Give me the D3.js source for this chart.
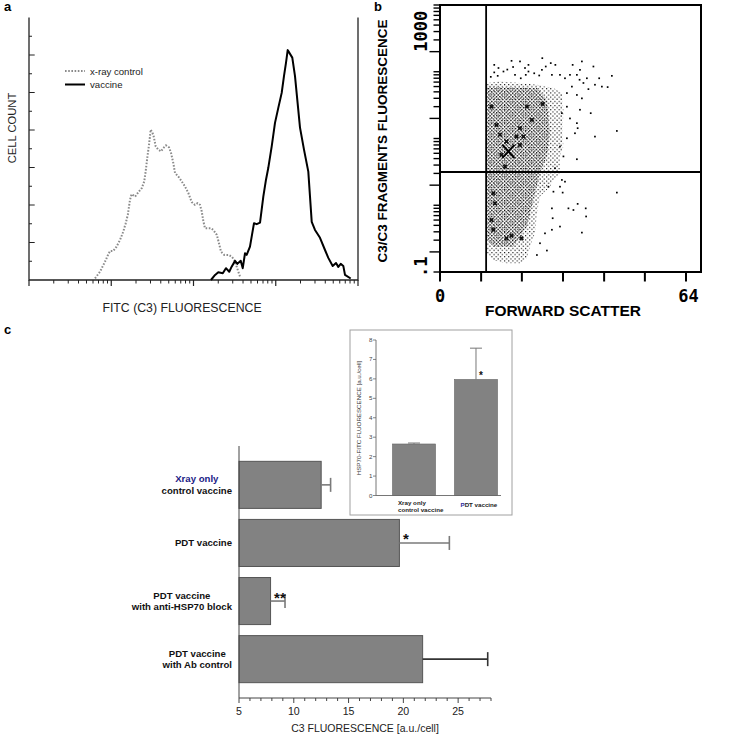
<!DOCTYPE html>
<html><head><meta charset="utf-8">
<script src="https://cdn.jsdelivr.net/npm/d3@7"></script>
<style>body{margin:0;background:#fff}svg{display:block}</style>
</head><body>
<svg id="fig" width="747" height="736"></svg>
<script>
// ================= DATA =================
// Panel a: histogram traces (fluorescence channel value, cell count)
const vaccineFluor = [163,183,200,227,248,272,291,320,341,375,397,423,443,486,544,587,644,706,761,811,893,979,1074,1181,1259,1333,1397,1589,1714,1972,2205,2488,2737,3000,3451,3970,4355,4925,5403,5763,6166,6628,6950,8150];
const vaccineCount = [0,2.7,4.1,3.6,6.3,4.4,7.1,10.2,8.6,10.3,6.3,14.3,13.4,17.8,30.3,29.8,30.6,44.5,53.5,59.7,71.3,83.8,91.8,99.8,108.7,115.9,122.6,118.6,108.7,81.3,69.5,57.8,31.0,26.7,22.5,16.0,11.8,7.5,9.1,7.0,8.6,7.5,2.7,0.8];
const controlFluor = [6.35,7.3,8.4,9.2,9.7,10.6,11.6,12.8,14.0,15.0,15.9,16.9,17.7,19.5,21.3,23.5,25.2,26.2,27.4,28.8,30.2,32.5,34.7,37.3,40.3,43.0,46.3,50.4,53.3,56.8,59.6,65.3,71.9,78.8,86.5,95.1,104,112,120,126,132,138,163,174,192,204,216,237,265,291,313,335,351,368];
const controlCount = [0.9,4.4,9.8,13.7,15.5,15.5,17.8,21.4,25.8,30.3,34.8,42.8,45.8,44.5,46.7,49.0,52.6,57.9,65.1,72.2,80.2,77.5,71.3,69.5,68.6,70.4,71.8,70.7,67.8,62.4,57.1,55.2,52.6,49.9,46.4,41.6,40.1,41.0,40.1,36.5,31.2,27.6,27.6,26.7,24.1,19.6,15.1,13.4,13.4,12.5,10.7,7.1,4.4,1.8];
const histSeries = ["x-ray control", "vaccine"];
const histDecades = [1, 10, 100, 1000, 10000];
const histCountTicks = [10,20,30,40,50,60,70,80,90,100,110,120,130];

// Panel b: scatter (forward scatter, C3 fluorescence)
const fsTicks = [0, 10.7, 21.3, 32, 42.7, 53.3, 64];
const fsTickLabels = ["0", "64"];
const flTickLabels = [".1", "1000"];
const gateFS = 12, gateFL = 3.15;
const denseOuterFS = [12.3,15.6,20.8,25.2,29.5,31.7,32.1,31.9,32.1,31.2,31.2,29.5,28.6,26.0,25.2,24.7,23.4,22.6,20.8,17.3,13.9,12.3];
const denseOuterFL = [67.6,71.6,67.6,63.8,56.9,47.9,26.9,12.0,7.6,5.4,3.0,2.4,1.9,1.35,0.76,0.38,0.24,0.16,0.135,0.135,0.15,0.19];
const denseInnerFS = [12.3,25.2,27.8,28.6,27.8,26.0,24.3,22.6,19.1,13.9,12.3];
const denseInnerFL = [60,57,38,12.0,5.4,3.0,1.2,0.48,0.24,0.24,0.30];
const sparseFS = [14.1,15.2,14.1,15.0,16.5,18.6,19.5,20.8,22.1,23.0,23.0,22.3,26.6,26.5,27.5,28.8,29.1,30.0,31.2,32.5,33.8,34.5,35.6,36.4,36.9,36.3,37.3,38.6,39.9,40.3,41.4,42.1,43.6,44.7,38.2,34.3,33.0,35.6,36.9,36.4,39.2,33.0,31.7,33.8,35.6,35.8,40.3,46.0,35.1,33.0,31.2,32.1,35.6,29.9,31.7,32.5,28.2,29.5,31.2,31.9,46.0,33.4,34.7,35.8,37.9,38.0,36.9,29.1,29.3,31.2,27.3,29.1,27.8,26.0,25.2,17.5,21.0,24.5,13.2,19.0,25.8];
const sparseFL = [127,114,98,87,101,146,90,143,114,127,101,90,160,107,120,135,90,127,90,80,90,127,90,107,143,76,68,55,120,64,80,60,59,87,80,60,48,45,40,27,24,30,24,20,17,14.3,10.7,13.0,12.0,10.1,7.6,5.4,4.9,3.6,2.4,2.26,1.9,1.6,1.9,1.55,1.55,0.90,0.85,1.05,0.90,0.68,0.39,0.90,0.64,0.48,0.38,0.43,0.21,0.27,0.18,108,80,95,84,118,88];
const blobFS = [22.6,26.7,23.9,20.8,19.9,21.7,20.8,17.3,15.6,16.0,14.7,16.9,13.9,14.3,13.4,13.9,17.3,18.6,21.2,13.4];
const blobFL = [30,33,19,14.3,10.7,10.7,8.0,9.0,11.4,5.7,16.0,3.8,1.51,1.07,0.60,0.43,0.32,0.35,0.32,30];
const centroid = {fs: 17.8, fl: 6.4};

// Panel c: main bars
const c3Cats = [["Xray only","control vaccine"],["PDT vaccine"],["PDT vaccine","with anti-HSP70 block"],["PDT vaccine","with Ab control"]];
const c3Values = [12.5, 19.64, 7.88, 21.76];
const c3Errors = [0.86, 4.56, 1.32, 5.94];
const c3Sig = ["", "*", "**", ""];
const c3Ticks = [5, 10, 15, 20, 25];
const c3Label = "C3 FLUORESCENCE [a.u./cell]";

// Panel c inset
const hspCats = [["Xray only","control vaccine"],["PDT vaccine"]];
const hspValues = [2.65, 5.97];
const hspErrors = [0.05, 1.61];
const hspSig = ["", "*"];
const hspTicks = [0,1,2,3,4,5,6,7,8];
const hspLabel = "HSP70-FITC FLUORESCENCE [a.u./cell]";

// ================= DRAWING =================
const svg = d3.select("#fig");
const SANS = "'Liberation Sans', Arial, Helvetica, sans-serif";
const MONO = "'DejaVu Sans Mono', monospace";
const zip = (a, b) => a.map((v, i) => [v, b[i]]);

// panel letters
svg.append("text").attr("x", 4).attr("y", 11).text("a");
svg.append("text").attr("x", 374).attr("y", 11).text("b");
svg.append("text").attr("x", 4).attr("y", 334).text("c");
svg.selectAll("text").attr("font-family", SANS).attr("font-weight", "bold").attr("font-size", 13);

// ---------- Panel a ----------
{
  const x = d3.scaleLog().domain([1, 10000]).range([29, 358]);
  const y = d3.scaleLinear().domain([0, 140]).range([280, 17.5]);
  const g = svg.append("g");
  const [x0, x1] = x.range(), [y0, y1] = y.range();
  g.append("path").attr("d", `M${x0},${y1}V${y0}H${x1}V${y1}`)
    .attr("fill", "none").attr("stroke", "#222").attr("stroke-width", 1.3);
  const minor = [];
  histDecades.slice(0, -1).forEach(d => { for (let k = 2; k < 10; k++) minor.push(d * k); });
  g.selectAll(".mx").data(minor).join("line")
    .attr("x1", d => x(d)).attr("x2", d => x(d)).attr("y1", y0).attr("y2", y0 + 3.5)
    .attr("stroke", "#222").attr("stroke-width", 1);
  g.selectAll(".Mx").data(histDecades).join("line")
    .attr("x1", d => x(d)).attr("x2", d => x(d)).attr("y1", y0).attr("y2", y0 + 6)
    .attr("stroke", "#222").attr("stroke-width", 1.2);
  g.selectAll(".ty").data(histCountTicks).join("line")
    .attr("x1", x0).attr("x2", d => x0 + (d % 20 === 0 ? 5.7 : 3))
    .attr("y1", d => y(d)).attr("y2", d => y(d))
    .attr("stroke", "#222").attr("stroke-width", 1);

  const line = d3.line().x(d => x(d[0])).y(d => y(d[1]));
  g.append("path").datum(zip(controlFluor, controlCount)).attr("d", line)
    .attr("fill", "none").attr("stroke", "#8a8a8a").attr("stroke-width", 2)
    .attr("stroke-dasharray", "1.6,1.6");
  g.append("path").datum(zip(vaccineFluor, vaccineCount)).attr("d", line)
    .attr("fill", "none").attr("stroke", "#000").attr("stroke-width", 2).attr("stroke-linejoin", "round");

  // legend
  histSeries.forEach((s, i) => {
    const ly = 71 + i * 13.5;
    g.append("line").attr("x1", 65).attr("x2", 85).attr("y1", ly).attr("y2", ly)
      .attr("stroke", i === 0 ? "#8a8a8a" : "#000").attr("stroke-width", 2)
      .attr("stroke-dasharray", i === 0 ? "1.6,1.6" : null);
    g.append("text").attr("x", 90).attr("y", ly + 3.5).text(s)
      .attr("font-family", SANS).attr("font-size", 9.6).attr("fill", "#222");
  });
  g.append("text").attr("transform", "translate(15.5,128) rotate(-90)").attr("text-anchor", "middle")
    .text("CELL COUNT").attr("font-family", SANS).attr("font-size", 11.2).attr("fill", "#222");
  g.append("text").attr("x", 182).attr("y", 312).attr("text-anchor", "middle")
    .text("FITC (C3) FLUORESCENCE").attr("font-family", SANS).attr("font-size", 12.3).attr("fill", "#222");
}

// ---------- Panel b ----------
{
  const box = {l: 440, r: 701, t: 5, b: 272};
  const x = d3.scaleLinear().domain([0, 64]).range([box.l, 686]);
  const y = d3.scaleLog().domain([0.1, 1000]).range([box.b, box.t]);
  const g = svg.append("g");
  const defs = svg.append("defs");
  defs.append("clipPath").attr("id", "bclip").append("rect")
    .attr("x", box.l).attr("y", box.t).attr("width", box.r - box.l).attr("height", box.b - box.t);
  const pOuter = defs.append("pattern").attr("id", "stipOuter").attr("patternUnits", "userSpaceOnUse")
    .attr("width", 4.2).attr("height", 4.2);
  pOuter.append("rect").attr("x", 0).attr("y", 0).attr("width", 1.1).attr("height", 1.1).attr("fill", "#000");
  pOuter.append("rect").attr("x", 2.1).attr("y", 2.1).attr("width", 1.1).attr("height", 1.1).attr("fill", "#000");
  const pInner = defs.append("pattern").attr("id", "stipInner").attr("patternUnits", "userSpaceOnUse")
    .attr("width", 3.2).attr("height", 3.2);
  pInner.append("rect").attr("x", 0).attr("y", 0).attr("width", 1.1).attr("height", 1.1).attr("fill", "#000");
  pInner.append("rect").attr("x", 1.6).attr("y", 1.6).attr("width", 1.1).attr("height", 1.1).attr("fill", "#000");

  const area = d3.line().x(d => x(d[0])).y(d => y(d[1])).curve(d3.curveLinearClosed);
  const cg = g.append("g").attr("clip-path", "url(#bclip)");
  cg.append("path").datum(zip(denseOuterFS, denseOuterFL)).attr("d", area).attr("fill", "url(#stipOuter)");
  cg.append("path").datum(zip(denseInnerFS, denseInnerFL)).attr("d", area).attr("fill", "url(#stipInner)");
  cg.selectAll(".sp").data(zip(sparseFS, sparseFL)).join("rect")
    .attr("x", d => x(d[0]) - 0.8).attr("y", d => y(d[1]) - 0.8).attr("width", 1.7).attr("height", 1.7).attr("fill", "#000");
  cg.selectAll(".bl").data(zip(blobFS, blobFL)).join("path")
    .attr("d", d3.symbol(d3.symbolCross, 14))
    .attr("transform", d => `translate(${x(d[0])},${y(d[1])}) rotate(45)`).attr("fill", "#111");
  const cx = x(centroid.fs), cy = y(centroid.fl);
  cg.append("path").attr("d", `M${cx - 6},${cy - 6.5}L${cx + 6},${cy + 6.5}M${cx + 6},${cy - 6.5}L${cx - 6},${cy + 6.5}`)
    .attr("stroke", "#000").attr("stroke-width", 2);

  // gates
  g.append("line").attr("x1", x(gateFS)).attr("x2", x(gateFS)).attr("y1", box.t).attr("y2", box.b)
    .attr("stroke", "#000").attr("stroke-width", 1.8);
  g.append("line").attr("x1", box.l).attr("x2", box.r).attr("y1", y(gateFL)).attr("y2", y(gateFL))
    .attr("stroke", "#000").attr("stroke-width", 1.8);
  // frame
  g.append("rect").attr("x", box.l).attr("y", box.t).attr("width", box.r - box.l).attr("height", box.b - box.t)
    .attr("fill", "none").attr("stroke", "#000").attr("stroke-width", 2);
  // x ticks
  g.selectAll(".xt").data(fsTicks).join("line")
    .attr("x1", d => x(d)).attr("x2", d => x(d)).attr("y1", box.b).attr("y2", box.b + 9.5)
    .attr("stroke", "#000").attr("stroke-width", 2);
  // y ticks (log)
  const yt = [];
  [0.1, 1, 10, 100].forEach(d => { for (let k = 1; k < 10; k++) yt.push({v: d * k, k}); });
  yt.push({v: 1000, k: 1});
  g.selectAll(".yt").data(yt).join("line")
    .attr("x1", box.l).attr("x2", d => box.l - (d.k === 2 ? 10.5 : 6.5))
    .attr("y1", d => y(d.v)).attr("y2", d => y(d.v))
    .attr("stroke", "#000").attr("stroke-width", 1.4);
  // tick labels
  g.append("text").attr("x", x(0)).attr("y", 302).attr("text-anchor", "middle").text(fsTickLabels[0]);
  g.append("text").attr("x", x(64) + 2.5).attr("y", 302).attr("text-anchor", "middle").text(fsTickLabels[1]);
  g.append("text").attr("transform", `translate(427,${y(0.1) + 5}) rotate(-90)`).text(flTickLabels[0]);
  g.append("text").attr("transform", `translate(427,${y(200)}) rotate(-90)`).text(flTickLabels[1]);
  g.selectAll("text").attr("font-family", MONO).attr("font-weight", "bold").attr("font-size", 17);
  // axis titles
  g.append("text").attr("x", 563).attr("y", 316).attr("text-anchor", "middle")
    .attr("font-family", SANS).attr("font-weight", "bold").attr("font-size", 15.5).text("FORWARD SCATTER");
  g.append("text").attr("transform", "translate(386.5,141) rotate(-90)").attr("text-anchor", "middle")
    .attr("font-family", SANS).attr("font-weight", "bold").attr("font-size", 13.5).text("C3/C3 FRAGMENTS FLUORESCENCE");
}

// ---------- Panel c main ----------
{
  const x = d3.scaleLinear().domain([5, 28]).range([239, 491]);
  const yb = d3.scaleBand().domain(d3.range(c3Values.length)).range([446, 698]).paddingInner(0.19).paddingOuter(0.264);
  const g = svg.append("g");
  const [ytop, ybot] = yb.range();
  g.selectAll(".bar").data(c3Values).join("rect")
    .attr("x", x(5)).attr("y", (d, i) => yb(i)).attr("width", d => x(d) - x(5)).attr("height", yb.bandwidth())
    .attr("fill", "#828282").attr("stroke", "#555").attr("stroke-width", 1);
  c3Values.forEach((v, i) => {
    const cy = yb(i) + yb.bandwidth() / 2, col = i === 3 ? "#333" : "#7a7a7a";
    g.append("line").attr("x1", x(v)).attr("x2", x(v + c3Errors[i])).attr("y1", cy).attr("y2", cy)
      .attr("stroke", col).attr("stroke-width", 1.6);
    g.append("line").attr("x1", x(v + c3Errors[i])).attr("x2", x(v + c3Errors[i])).attr("y1", cy - 7).attr("y2", cy + 7)
      .attr("stroke", col).attr("stroke-width", 1.6);
    if (c3Sig[i]) g.append("text").attr("x", x(v) + 3.5).attr("y", cy + 1.5).text(c3Sig[i])
      .attr("font-family", SANS).attr("font-weight", "bold").attr("font-size", 15).attr("fill", "#111");
    // category label
    const lines = c3Cats[i];
    const tg = g.append("g").attr("font-family", SANS).attr("font-weight", "bold").attr("font-size", 9.6);
    const ts = lines.map((t, j) => tg.append("text").text(t)
      .attr("y", cy + 3.4 + (j - (lines.length - 1) / 2) * 11.7)
      .attr("fill", (i === 0 && j === 0) ? "#1a1a86" : "#111"));
    const w = d3.max(ts, t => t.node().getComputedTextLength());
    ts.forEach(t => t.attr("x", 232 - w / 2).attr("text-anchor", "middle"));
  });
  // axes
  g.append("line").attr("x1", x(5)).attr("x2", x(5)).attr("y1", ytop).attr("y2", ybot)
    .attr("stroke", "#444").attr("stroke-width", 1);
  g.append("line").attr("x1", x(5)).attr("x2", x(28)).attr("y1", ybot).attr("y2", ybot)
    .attr("stroke", "#444").attr("stroke-width", 1);
  g.selectAll(".mt").data(d3.range(5, 29)).join("line")
    .attr("x1", d => x(d)).attr("x2", d => x(d)).attr("y1", ybot)
    .attr("y2", d => ybot + (c3Ticks.includes(d) ? 5 : 3))
    .attr("stroke", "#444").attr("stroke-width", 1);
  g.selectAll(".tl").data(c3Ticks).join("text")
    .attr("x", d => x(d)).attr("y", 714.5).attr("text-anchor", "middle").text(d => d)
    .attr("font-family", SANS).attr("font-size", 10.6).attr("fill", "#222");
  g.append("text").attr("x", 365).attr("y", 731.5).attr("text-anchor", "middle").text(c3Label)
    .attr("font-family", SANS).attr("font-size", 10.5).attr("fill", "#222");
}

// ---------- Panel c inset ----------
{
  const g = svg.append("g");
  g.append("rect").attr("x", 350).attr("y", 330).attr("width", 162).attr("height", 185)
    .attr("fill", "#fff").attr("stroke", "#a0a0a0").attr("stroke-width", 1);
  const y = d3.scaleLinear().domain([0, 8]).range([495.5, 340]);
  const xb = d3.scaleBand().domain(d3.range(hspValues.length)).range([376, 514]).paddingInner(0.306).paddingOuter(0.266);
  g.selectAll(".bar").data(hspValues).join("rect")
    .attr("x", (d, i) => xb(i)).attr("y", d => y(d)).attr("width", xb.bandwidth()).attr("height", d => y(0) - y(d))
    .attr("fill", "#828282").attr("stroke", "#666").attr("stroke-width", 0.6);
  hspValues.forEach((v, i) => {
    const cx = xb(i) + xb.bandwidth() / 2, top = y(v + hspErrors[i]);
    g.append("line").attr("x1", cx).attr("x2", cx).attr("y1", y(v)).attr("y2", top).attr("stroke", "#777").attr("stroke-width", 1);
    g.append("line").attr("x1", cx - 6).attr("x2", cx + 6).attr("y1", top).attr("y2", top).attr("stroke", "#777").attr("stroke-width", 1);
    if (hspSig[i]) g.append("text").attr("x", cx + 5).attr("y", y(v) - 0.5).attr("text-anchor", "middle").text(hspSig[i])
      .attr("font-family", SANS).attr("font-weight", "bold").attr("font-size", 10).attr("fill", "#111");
    const lines = hspCats[i];
    lines.forEach((t, j) => {
      const tt = g.append("text").attr("x", xb(i) + (lines.length > 1 ? 5.5 : 6))
        .attr("y", (lines.length > 1 ? 505 : 507) + j * 6.6)
        .attr("font-family", SANS).attr("font-weight", "bold").attr("font-size", 6.2).attr("fill", "#222");
      if (t.startsWith("PDT")) { tt.append("tspan").attr("fill", "#2a2aa0").text("P"); tt.append("tspan").text(t.slice(1)); }
      else tt.text(t);
    });
  });
  g.append("line").attr("x1", 376).attr("x2", 376).attr("y1", y(8)).attr("y2", y(0)).attr("stroke", "#666").attr("stroke-width", 0.9);
  g.append("line").attr("x1", 376).attr("x2", 501).attr("y1", y(0)).attr("y2", y(0)).attr("stroke", "#666").attr("stroke-width", 0.9);
  g.selectAll(".it").data(hspTicks).join("line")
    .attr("x1", 373).attr("x2", 376).attr("y1", d => y(d)).attr("y2", d => y(d)).attr("stroke", "#666").attr("stroke-width", 0.8);
  g.selectAll(".il").data(hspTicks).join("text")
    .attr("x", 372.5).attr("y", d => y(d) + 2).attr("text-anchor", "end").text(d => d)
    .attr("font-family", SANS).attr("font-size", 6.2).attr("fill", "#444");
  g.append("text").attr("transform", "translate(361,418) rotate(-90)").attr("text-anchor", "middle").text(hspLabel)
    .attr("font-family", SANS).attr("font-size", 6.2).attr("fill", "#333");
}
</script>
</body></html>
